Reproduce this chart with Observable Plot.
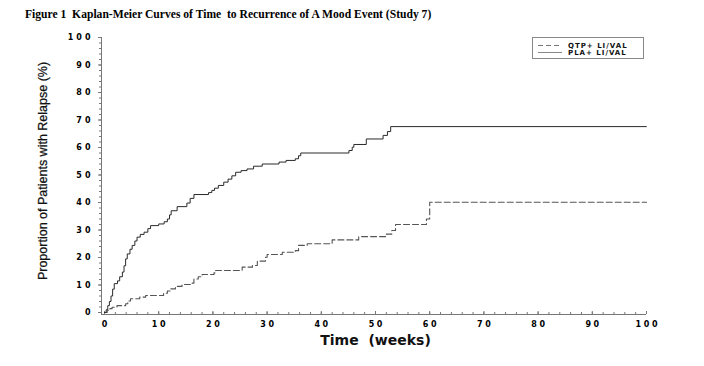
<!DOCTYPE html>
<html><head><meta charset="utf-8">
<script src="https://cdn.jsdelivr.net/npm/d3@7"></script>
<script src="https://cdn.jsdelivr.net/npm/@observablehq/plot@0.6"></script>
<style>
body{margin:0;background:#fff;width:704px;height:366px;overflow:hidden;position:relative}
#title{height:24px;font:bold 11.6px "Liberation Serif";padding-left:25px;line-height:29px;white-space:pre;color:#000}
#legend{position:absolute;left:532px;top:37px;width:112px;height:22px;border:1px solid #888;box-sizing:border-box;background:#fff}
#legend .row{position:absolute;left:5px;height:7px;display:flex;align-items:center;font:bold 7px "DejaVu Sans";letter-spacing:1px;color:#111;white-space:pre}
#legend .row svg{margin-right:6px}
svg g[aria-label="x-axis tick label"] text{letter-spacing:2.6px}
svg g[aria-label="y-axis tick label"] text{letter-spacing:3px}
</style></head><body>
<div id="title"></div>
<div id="chart"></div>
<div id="legend"></div>
<script>
const title = "Figure 1  Kaplan-Meier Curves of Time  to Recurrence of A Mood Event (Study 7)";
const xLabel = "Time  (weeks)";
const yLabel = "Proportion of Patients with Relapse (%)";
const seriesNames = ["QTP+ LI/VAL", "PLA+ LI/VAL"];

const xTicks = [0, 10, 20, 30, 40, 50, 60, 70, 80, 90, 100];
const yTicks = [0, 10, 20, 30, 40, 50, 60, 70, 80, 90, 100];
const xMinorTicks = [0,2,4,6,8,10,12,14,16,18,20,22,24,26,28,30,32,34,36,38,40,42,44,46,48,50,52,54,56,58,60,62,64,66,68,70,72,74,76,78,80,82,84,86,88,90,92,94,96,98,100];
const yMinorTicks = [0,2,4,6,8,10,12,14,16,18,20,22,24,26,28,30,32,34,36,38,40,42,44,46,48,50,52,54,56,58,60,62,64,66,68,70,72,74,76,78,80,82,84,86,88,90,92,94,96,98,100];

// QTP + Li/VAL (dashed)
const qtpWeeks = [0,0.5,1.0,1.4,2.3,3.9,4.3,4.8,6.5,7.6,10.9,11.6,12.2,13.1,14.3,15.9,16.5,17.3,18.0,20.2,20.5,25.4,27.3,28.2,29.7,30.0,32.8,35.2,35.8,37.4,42.0,46.9,52.0,53.0,53.7,59.4,60.0,100];
const qtpPct   = [0,0.8,1.4,1.9,2.5,3.2,4.2,5.0,5.6,6.2,7.0,7.8,8.6,9.5,10.2,10.7,12.2,13.0,13.8,14.4,15.3,16.5,17.1,18.7,20.1,21.1,21.9,22.5,24.4,25.0,26.4,27.6,28.5,29.8,32.0,34.0,40.1,40.1];

// PLA + Li/VAL (solid)
const plaWeeks = [0,0.3,0.6,0.9,1.2,1.5,1.8,2.4,2.8,3.3,3.6,3.9,4.2,4.7,5.1,5.6,6.0,6.6,7.3,8.0,8.5,10.0,11.0,11.6,12.0,12.3,13.4,15.2,15.8,16.5,19.2,19.8,20.3,21.0,22.0,22.8,23.5,24.2,25.2,26.3,27.5,29.1,32.2,33.5,35.2,35.8,36.2,45.1,45.7,46.0,48.3,51.4,52.2,52.8,100];
const plaPct   = [0,1.0,2.5,4.0,6.0,8.5,10.5,11.5,13.0,14.7,17.0,19.5,21.3,23.0,24.4,26.0,27.4,28.4,29.2,30.5,31.6,32.2,33.0,34.0,35.5,37.0,38.5,39.8,41.5,42.9,43.6,44.4,45.2,46.2,47.4,48.5,49.7,51.0,51.6,52.2,53.2,54.0,54.7,55.3,55.9,57.0,58.0,58.9,60.1,61.1,63.1,64.4,65.8,67.6,67.6];

const qtp = qtpWeeks.map((w, i) => ({week: w, pct: qtpPct[i]}));
const pla = plaWeeks.map((w, i) => ({week: w, pct: plaPct[i]}));

document.getElementById("title").textContent = title;

const tickFont = {fontSize: 8, fontWeight: "bold", fontFamily: "DejaVu Sans", fill: "#000"};

const chart = Plot.plot({
  width: 704,
  height: 342,
  marginLeft: 104,
  marginRight: 58,
  marginTop: 13,
  marginBottom: 54,
  style: {background: "#fff", overflow: "visible"},
  x: {domain: [0, 100]},
  y: {domain: [0, 100]},
  marks: [
    Plot.ruleY([0], {dy: 2, insetLeft: -3, stroke: "#777", strokeWidth: 1}),
    Plot.ruleX([0], {dx: -3, insetBottom: -2, stroke: "#777", strokeWidth: 1}),
    Plot.axisX({ticks: xMinorTicks, tickSize: -2, tickFormat: () => "", dy: 2, stroke: "#777", label: null}),
    Plot.axisX({ticks: xTicks, tickSize: -3, tickFormat: () => "", dy: 2, stroke: "#777", label: null}),
    Plot.axisX({ticks: xTicks, tickSize: 0, tickPadding: 8.5, dx: 1.3, tickFormat: d => String(d), label: null, ...tickFont}),
    Plot.axisY({ticks: yMinorTicks, tickSize: 2, tickFormat: () => "", dx: -3, stroke: "#777", label: null}),
    Plot.axisY({ticks: yTicks, tickSize: 3, tickFormat: () => "", dx: -3, stroke: "#777", label: null}),
    Plot.axisY({ticks: yTicks, tickSize: 0, tickPadding: 8, dx: -3, tickFormat: d => String(d), label: null, ...tickFont}),
    Plot.line(qtp, {x: "week", y: "pct", curve: "step-after", stroke: "#555", strokeWidth: 1.1, strokeDasharray: "6,3"}),
    Plot.line(pla, {x: "week", y: "pct", curve: "step-after", stroke: "#2a2a2a", strokeWidth: 1}),
    Plot.text([xLabel], {frameAnchor: "bottom", textAnchor: "middle", dy: 32, fontSize: 14, fontWeight: "bold", fontFamily: "DejaVu Sans", fill: "#111"}),
    Plot.text([yLabel], {frameAnchor: "left", textAnchor: "middle", dx: -62, dy: -4, rotate: -90, fontSize: 12.5, fontFamily: "Liberation Sans", fill: "#111", stroke: "#111", strokeWidth: 0.25})
  ]
});
document.getElementById("chart").appendChild(chart);

// legend
const legend = document.getElementById("legend");
const styles = [{dash: "5,3", color: "#777", top: 4}, {dash: null, color: "#888", top: 11}];
seriesNames.forEach((name, i) => {
  const row = document.createElement("div");
  row.className = "row";
  row.style.top = styles[i].top + "px";
  row.innerHTML = `<svg width="24" height="7"><line x1="0" x2="24" y1="3.5" y2="3.5" stroke="${styles[i].color}" stroke-width="1" ${styles[i].dash ? `stroke-dasharray="${styles[i].dash}"` : ""}/></svg>`;
  const span = document.createElement("span");
  span.textContent = name;
  row.appendChild(span);
  legend.appendChild(row);
});
</script>
</body></html>
